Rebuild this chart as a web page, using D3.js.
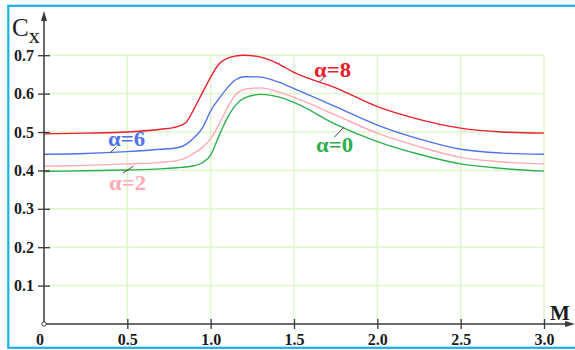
<!DOCTYPE html>
<html>
<head>
<meta charset="utf-8">
<script src="https://cdn.jsdelivr.net/npm/d3@7"></script>
<style>
  html, body { margin: 0; padding: 0; background: #fff; }
  svg { display: block; }
  text { font-family: "Liberation Serif", "Times New Roman", serif; font-weight: bold; }
</style>
</head>
<body>
<svg id="chart" width="575" height="350"></svg>
<script>
// Drag coefficient Cx versus Mach number M for several angles of attack
const machNumbers = [0, 0.25, 0.5, 0.7, 0.8, 0.85, 0.9, 0.95, 1.0, 1.05, 1.1, 1.15, 1.2, 1.3, 1.4, 1.5, 1.75, 2.0, 2.25, 2.5, 2.75, 3.0];
const cxAlpha8 = [0.495, 0.497, 0.500, 0.507, 0.514, 0.524, 0.560, 0.602, 0.643, 0.677, 0.692, 0.698, 0.700, 0.695, 0.679, 0.655, 0.615, 0.566, 0.533, 0.510, 0.500, 0.497];
const cxAlpha6 = [0.442, 0.444, 0.449, 0.455, 0.459, 0.467, 0.485, 0.510, 0.555, 0.587, 0.615, 0.636, 0.644, 0.643, 0.631, 0.613, 0.566, 0.518, 0.482, 0.455, 0.445, 0.442];
const cxAlpha2 = [0.411, 0.413, 0.417, 0.421, 0.426, 0.432, 0.445, 0.460, 0.482, 0.520, 0.563, 0.597, 0.611, 0.615, 0.605, 0.590, 0.544, 0.497, 0.462, 0.434, 0.422, 0.417];
const cxAlpha0 = [0.397, 0.399, 0.401, 0.404, 0.407, 0.409, 0.412, 0.420, 0.440, 0.490, 0.537, 0.570, 0.588, 0.598, 0.592, 0.577, 0.520, 0.475, 0.442, 0.417, 0.405, 0.398];

const seriesNames = ["α=8", "α=6", "α=2", "α=0"];
const seriesColors = ["#e8202c", "#4f72ee", "#ffaab4", "#2eae4e"];
const xTickValues = [0.5, 1.0, 1.5, 2.0, 2.5, 3.0];
const xTickLabels = ["0.5", "1.0", "1.5", "2.0", "2.5", "3.0"];
const yTickValues = [0.1, 0.2, 0.3, 0.4, 0.5, 0.6, 0.7];
const yTickLabels = ["0.1", "0.2", "0.3", "0.4", "0.5", "0.6", "0.7"];

const svg = d3.select("#chart");
const x = d3.scaleLinear().domain([0, 3]).range([44, 544]);
const y = d3.scaleLinear().domain([0, 0.7]).range([324, 55.2]);

const gridColor = "#def6cc";
const axisColor = "#3a3a3a";

// outer frame
svg.append("rect")
  .attr("x", 8.3).attr("y", 5.8)
  .attr("width", 600).attr("height", 342)
  .attr("fill", "none").attr("stroke", "#19b0e6").attr("stroke-width", 2.2);

// grid
const grid = svg.append("g");
grid.selectAll("line.gx").data(xTickValues).join("line")
  .attr("x1", d => x(d)).attr("x2", d => x(d))
  .attr("y1", y(0)).attr("y2", y(0.7))
  .attr("stroke", gridColor).attr("stroke-width", 1.5);
grid.selectAll("line.gy").data(yTickValues).join("line")
  .attr("x1", x(0)).attr("x2", x(3))
  .attr("y1", d => y(d)).attr("y2", d => y(d))
  .attr("stroke", gridColor).attr("stroke-width", 1.5);

// curves
const series = [cxAlpha8, cxAlpha6, cxAlpha2, cxAlpha0];
const line = d3.line()
  .x((d, i) => x(machNumbers[i]))
  .y(d => y(d))
  .curve(d3.curveMonotoneX);
svg.append("g").selectAll("path").data(series).join("path")
  .attr("d", d => line(d))
  .attr("fill", "none")
  .attr("stroke", (d, i) => seriesColors[i])
  .attr("stroke-width", 1.4);

// axes
const xAxis = d3.axisBottom(x).tickValues(xTickValues).tickFormat((d, i) => xTickLabels[i]).tickSizeInner(5).tickSizeOuter(0);
const gx = svg.append("g").attr("transform", `translate(0,${y(0)})`).call(xAxis);
gx.select(".domain").remove();
gx.selectAll(".tick line").attr("y1", -5).attr("y2", 5).attr("stroke", axisColor).attr("stroke-width", 1.3);
gx.selectAll(".tick text").attr("y", 20.5).attr("dy", 0).attr("font-size", 16).attr("fill", "#1a1a1a")
  .attr("font-family", "Liberation Serif").attr("font-weight", "bold");

const yAxis = d3.axisLeft(y).tickValues(yTickValues).tickFormat((d, i) => yTickLabels[i]).tickSizeInner(6).tickSizeOuter(0).tickPadding(4);
const gy = svg.append("g").attr("transform", `translate(${x(0)},0)`).call(yAxis);
gy.select(".domain").remove();
gy.selectAll(".tick line").attr("x1", -6).attr("x2", 6).attr("stroke", axisColor).attr("stroke-width", 1.3);
gy.selectAll(".tick text").attr("font-size", 16).attr("fill", "#1a1a1a")
  .attr("font-family", "Liberation Serif").attr("font-weight", "bold");

// axis lines with arrows
svg.append("line").attr("x1", x(0)).attr("x2", x(0)).attr("y1", y(0)).attr("y2", 18)
  .attr("stroke", axisColor).attr("stroke-width", 1.5);
svg.append("path").attr("d", `M${x(0)},11 L${x(0) - 3},21 L${x(0) + 3},21 Z`).attr("fill", axisColor);
svg.append("line").attr("x1", x(0)).attr("x2", 567).attr("y1", y(0)).attr("y2", y(0))
  .attr("stroke", axisColor).attr("stroke-width", 1.5);
svg.append("path").attr("d", `M575,${y(0)} L565,${y(0) - 3} L565,${y(0) + 3} Z`).attr("fill", axisColor);
svg.append("circle").attr("cx", x(0)).attr("cy", y(0)).attr("r", 2.2)
  .attr("fill", "#fff").attr("stroke", axisColor).attr("stroke-width", 1);

// origin label
svg.append("text").attr("x", x(0) - 4).attr("y", 344.5).attr("text-anchor", "middle")
  .attr("font-size", 16).attr("fill", "#1a1a1a").text("0");

// axis titles
const cx = svg.append("text").attr("x", 12).attr("y", 36).attr("fill", "#1a1a1a");
cx.append("tspan").attr("font-size", 25).attr("font-weight", "normal").text("C");
cx.append("tspan").attr("font-size", 22).attr("font-weight", "normal").attr("dy", 7).text("x");
svg.append("text").attr("x", 550).attr("y", 320).attr("font-size", 21).attr("fill", "#1a1a1a").text("M");

// series labels with leader lines
const seriesLabels = [
  { tx: 314, ty: 76.5, lx1: 325, ly1: 76.5, lx2: 319.5, ly2: 82 },
  { tx: 108, ty: 146, lx1: 116, ly1: 147, lx2: 110, ly2: 153 },
  { tx: 109, ty: 189.5, lx1: 133.5, ly1: 166, lx2: 123, ly2: 173 },
  { tx: 316, ty: 152, lx1: 343.5, ly1: 127.5, lx2: 334.5, ly2: 137 }
];
const lbl = svg.append("g").selectAll("g").data(seriesLabels).join("g");
lbl.append("line")
  .attr("x1", d => d.lx1).attr("y1", d => d.ly1).attr("x2", d => d.lx2).attr("y2", d => d.ly2)
  .attr("stroke", "#444").attr("stroke-width", 1);
lbl.append("text")
  .attr("x", d => d.tx).attr("y", d => d.ty)
  .attr("font-size", 21)
  .attr("textLength", 37)
  .attr("lengthAdjust", "spacingAndGlyphs")
  .attr("fill", (d, i) => seriesColors[i])
  .text((d, i) => seriesNames[i]);
</script>
</body>
</html>
